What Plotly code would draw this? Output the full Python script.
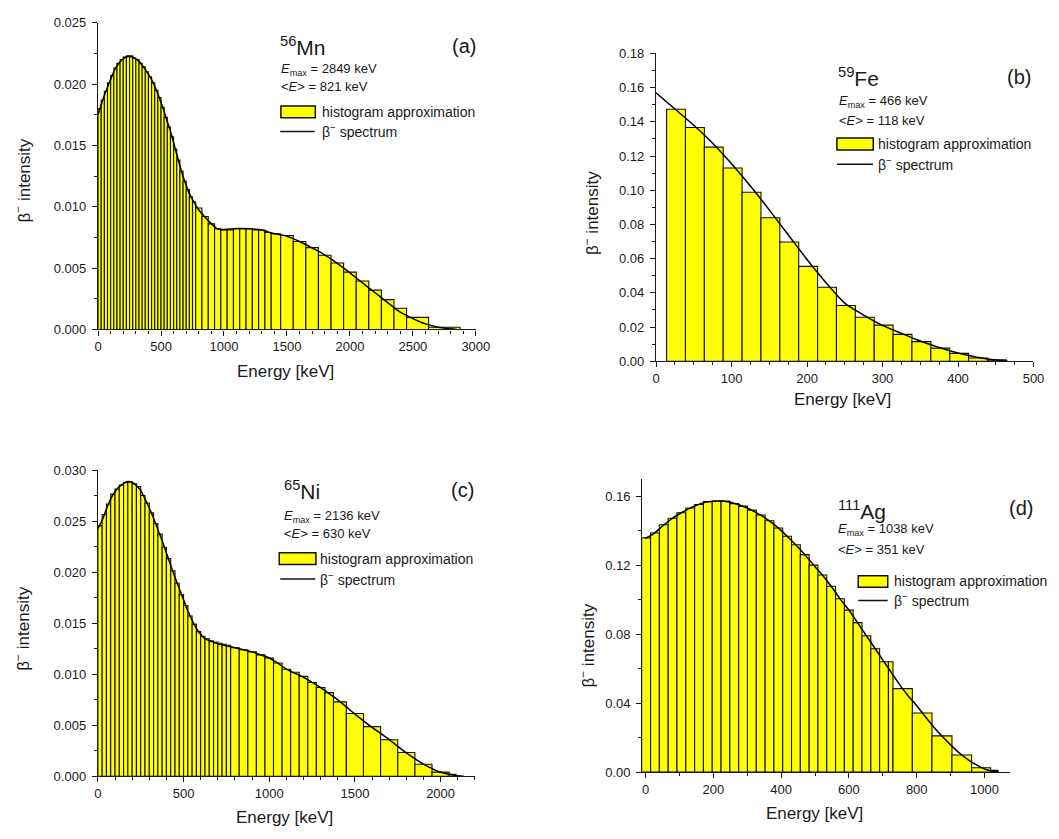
import plotly.graph_objects as go

# ---------------- data ----------------
# (a) 56Mn
a_edges = [0, 25, 50, 75, 100, 125, 150, 175, 200, 225, 250, 275, 300, 325, 350, 375, 400,
           425, 450, 475, 500, 525, 550, 575, 600, 625, 650, 675, 700, 725, 750, 775,
           825, 875, 925, 975, 1025, 1075, 1125, 1175, 1225, 1275, 1325, 1375,
           1450, 1550, 1650, 1750, 1850, 1950, 2050, 2150, 2250, 2350, 2450, 2625, 2875]
a_hist = [0.0180, 0.0187, 0.0194, 0.0201, 0.0207, 0.0213, 0.0217, 0.0220, 0.0222, 0.0223,
          0.0223, 0.0221, 0.0220, 0.0217, 0.0214, 0.0210, 0.0206, 0.0201, 0.0195, 0.0189,
          0.0181, 0.0173, 0.0165, 0.0157, 0.0147, 0.0138, 0.0129, 0.0121, 0.0114, 0.0108, 0.0104,
          0.0099, 0.0092, 0.0086, 0.0082, 0.0081, 0.0081, 0.0082, 0.0082, 0.0082, 0.0081, 0.0081, 0.0079,
          0.0078,
          0.00765, 0.00717, 0.00667, 0.00605, 0.00541, 0.00467, 0.00395, 0.0032, 0.00243, 0.00173,
          0.00098, 0.00018]
a_E = [0, 25, 50, 75, 100, 125, 150, 175, 200, 225, 250, 275, 300, 325, 350, 375, 400, 425, 450,
       475, 500, 525, 550, 575, 600, 625, 650, 675, 700, 725, 750, 775, 800, 850, 900, 950, 1000,
       1100, 1200, 1300, 1350, 1400, 1500, 1600, 1700, 1800, 1900, 2000, 2100, 2200, 2300, 2400,
       2500, 2600, 2700, 2800, 2849]
a_I = [0.01748, 0.01833, 0.01908, 0.01974, 0.0204, 0.0210, 0.02148, 0.02182, 0.02206, 0.02222,
       0.02225, 0.0222, 0.02206, 0.02185, 0.02153, 0.0212, 0.0208, 0.02036, 0.01982, 0.0192,
       0.01849, 0.01774, 0.01694, 0.01614, 0.01521, 0.01427, 0.01334, 0.01246, 0.01174, 0.01107,
       0.01059, 0.01014, 0.00974, 0.00915, 0.00862, 0.00819, 0.00814, 0.00822, 0.00821, 0.0081,
       0.00795, 0.0078, 0.0076, 0.00717, 0.00664, 0.00608, 0.00539, 0.00461, 0.00379, 0.00299,
       0.00219, 0.00141, 0.00088, 0.00045, 0.00018, 0.00005, 0.0]

# (b) 59Fe
b_edges = [14, 39, 64, 89, 114, 139, 164, 189, 214, 239, 264, 289, 314, 339, 364, 389, 414, 439, 464]
b_hist = [0.1474, 0.1367, 0.1252, 0.1130, 0.0988, 0.0839, 0.0697, 0.0555, 0.0433, 0.0326,
          0.0257, 0.0211, 0.0157, 0.0115, 0.0077, 0.0046, 0.0019, 0.0008]
b_E = [0, 25, 50, 75, 100, 125, 150, 175, 200, 225, 250, 275, 300, 325, 350, 375, 400, 425, 450, 466]
b_I = [0.157, 0.1475, 0.138, 0.1275, 0.1155, 0.1025, 0.0885, 0.074, 0.0595, 0.046, 0.034,
       0.027, 0.021, 0.0163, 0.0118, 0.0080, 0.0048, 0.0024, 0.0008, 0.0]

# (c) 65Ni
c_edges = [0, 25, 50, 75, 100, 125, 150, 175, 200, 225, 250, 275, 300, 325, 350, 375, 400,
           425, 450, 475, 500, 525, 550, 575, 600, 625, 650, 675, 700, 725, 750, 775,
           825, 875, 925, 975, 1025, 1075, 1125, 1175, 1225, 1275, 1325, 1375,
           1450, 1550, 1650, 1750, 1850, 1950, 2050, 2090]
c_hist = [0.02455, 0.02567, 0.0267, 0.02766, 0.02817, 0.02856, 0.02881, 0.02888, 0.02868, 0.0284,
          0.02753, 0.02679, 0.02583, 0.02477, 0.02374, 0.02246, 0.02134, 0.02015, 0.01893, 0.01781,
          0.01675, 0.01572, 0.01492, 0.01418, 0.01373, 0.01348, 0.01328, 0.01316, 0.01305, 0.01295,
          0.01285,
          0.0126, 0.0124, 0.0122, 0.0119, 0.0116, 0.0111, 0.0105, 0.0102, 0.0098, 0.0092, 0.0087, 0.0082,
          0.0073,
          0.00616, 0.00487, 0.00359, 0.00234, 0.00118, 0.00041,
          0.0002]
c_E = [0, 25, 50, 75, 100, 125, 150, 175, 200, 225, 250, 275, 300, 325, 350, 375, 400, 425, 450,
       475, 500, 525, 550, 575, 600, 625, 650, 700, 750, 800, 850, 900, 950, 1000, 1050, 1100,
       1150, 1200, 1250, 1300, 1350, 1400, 1450, 1500, 1600, 1700, 1800, 1900, 2000, 2050, 2100, 2136]
c_I = [0.0243, 0.0251, 0.0262, 0.0272, 0.0279, 0.0284, 0.0287, 0.0289, 0.0288, 0.0285, 0.0280,
       0.0272, 0.0263, 0.0253, 0.0242, 0.0231, 0.0219, 0.0207, 0.0195, 0.0184, 0.0173, 0.0162,
       0.0153, 0.0145, 0.0139, 0.0135, 0.0133, 0.0130, 0.0128, 0.0126, 0.0124, 0.0122, 0.0119,
       0.0116, 0.0111, 0.0105, 0.0101, 0.0097, 0.0092, 0.0087, 0.0081, 0.0075, 0.0068, 0.0061,
       0.0048, 0.0036, 0.0023, 0.0012, 0.0004, 0.0002, 0.00005, 0.0]

# (d) 111Ag
d_edges = [-11.5, 14.5, 40.5, 66.5, 92.5, 118.5, 144.5, 170.5, 196.5, 222.5, 248.5, 274.5, 300.5,
           326.5, 352.5, 378.5, 404.5, 430.5, 456.5, 482.5, 508.5, 534.5, 560.5, 586.5, 612.5,
           638.5, 664.5, 690.5, 716.5, 730, 787, 845, 904, 962, 1018, 1040]
d_hist = [0.1359, 0.1387, 0.1435, 0.1473, 0.1505, 0.1532, 0.1553, 0.1570, 0.1573, 0.1572,
          0.1558, 0.1543, 0.1520, 0.1492, 0.1458, 0.1416, 0.1368, 0.1319, 0.1262, 0.1201,
          0.1144, 0.1078, 0.1006, 0.0940, 0.0867, 0.0791, 0.0716, 0.0640,
          0.0640, 0.0484, 0.0343, 0.0210, 0.0099, 0.0025, 0.0010]
d_E = [0, 25, 50, 75, 100, 125, 150, 175, 200, 225, 250, 275, 300, 325, 350, 375, 400, 425, 450,
       475, 500, 525, 550, 575, 600, 625, 650, 675, 700, 725, 750, 775, 800, 825, 850, 875, 900,
       925, 950, 975, 1000, 1020, 1040]
d_I = [0.1357, 0.1385, 0.1428, 0.1467, 0.1499, 0.1526, 0.1548, 0.1565, 0.1572, 0.1573, 0.1566,
       0.1551, 0.1532, 0.1507, 0.1478, 0.1443, 0.1401, 0.1354, 0.1305, 0.1250, 0.1192, 0.1135,
       0.1071, 0.1002, 0.0939, 0.0868, 0.0795, 0.0723, 0.0650, 0.0578, 0.0506, 0.0442, 0.0385,
       0.0322, 0.0262, 0.0208, 0.0158, 0.0112, 0.0074, 0.0043, 0.0018, 0.0006, 0.0]

panels = [
    dict(edges=a_edges, hist=a_hist, E=a_E, I=a_I, ax="", nuc="56", el="Mn", tag="(a)",
         emax="2849", emean="821"),
    dict(edges=b_edges, hist=b_hist, E=b_E, I=b_I, ax="2", nuc="59", el="Fe", tag="(b)",
         emax="466", emean="118"),
    dict(edges=c_edges, hist=c_hist, E=c_E, I=c_I, ax="3", nuc="65", el="Ni", tag="(c)",
         emax="2136", emean="630"),
    dict(edges=d_edges, hist=d_hist, E=d_E, I=d_I, ax="4", nuc="111", el="Ag", tag="(d)",
         emax="1038", emean="351"),
]

W, H = 1059, 839
FONT = "Liberation Sans, Arial, sans-serif"
INK = "#1a1a1a"

def px(x):
    return x / W

def py(y):
    return 1 - y / H

fig = go.Figure()
for p in panels:
    lefts = p["edges"][:-1]
    widths = [r - l for l, r in zip(p["edges"][:-1], p["edges"][1:])]
    fig.add_trace(go.Bar(x=lefts, y=p["hist"], width=widths, offset=0,
                         marker=dict(color="#FFFF00", line=dict(color="#111111", width=1.1)),
                         xaxis="x" + p["ax"], yaxis="y" + p["ax"], showlegend=False,
                         name="histogram approximation"))
    fig.add_trace(go.Scatter(x=p["E"], y=p["I"], mode="lines",
                             line=dict(color="#000000", width=1.5, shape="spline", smoothing=0.8),
                             xaxis="x" + p["ax"], yaxis="y" + p["ax"], showlegend=False,
                             name="β⁻ spectrum"))

# axis geometry (pixel-measured domains)
geo = {
    "": dict(xd=[95.7, 480.0], yd=[328.3, 16.0], xr=[0, 3000], yr=[0, 0.025],
             xdt=500, xmin=100, ydt=0.005, ymin=0.0025, yf=".3f"),
    "2": dict(xd=[663.3, 1047.3], yd=[360.7, 47.3], xr=[0, 500], yr=[0, 0.18],
              xdt=100, xmin=25, ydt=0.02, ymin=0.01, yf=".2f"),
    "3": dict(xd=[95.5, 479.0], yd=[783.3, 471.7], xr=[0, 2200], yr=[0, 0.030],
              xdt=500, xmin=100, ydt=0.005, ymin=0.0025, yf=".3f"),
    "4": dict(xd=[649.3, 1023.3], yd=[779.0, 480.7], xr=[-10, 1075], yr=[0, 0.17],
              xdt=200, xmin=100, ydt=0.04, ymin=0.02, yf=".2f"),
}

layout = dict(width=W, height=H, margin=dict(l=0, r=0, t=0, b=0),
              paper_bgcolor="white", plot_bgcolor="white", barmode="overlay",
              font=dict(family=FONT, color=INK))

tickfont = dict(family=FONT, size=13, color=INK)
for k, g in geo.items():
    xname = "xaxis" + k
    yname = "yaxis" + k
    layout[xname] = dict(domain=[px(g["xd"][0]), px(g["xd"][1])], range=g["xr"],
                         anchor="y" + k, showgrid=False, zeroline=False,
                         showline=True, linecolor=INK, linewidth=1.3,
                         ticks="outside", ticklen=5, tickwidth=1.2, tickcolor=INK,
                         tick0=0, dtick=g["xdt"], tickfont=tickfont,
                         minor=dict(dtick=g["xmin"], tick0=0, ticks="outside", ticklen=3,
                                    tickwidth=1, tickcolor=INK, showgrid=False))
    layout[yname] = dict(domain=[py(g["yd"][0]), py(g["yd"][1])], range=g["yr"],
                         anchor="x" + k, showgrid=False, zeroline=False,
                         showline=True, linecolor=INK, linewidth=1.3,
                         ticks="outside", ticklen=5, tickwidth=1.2, tickcolor=INK,
                         tick0=0, dtick=g["ydt"], tickformat=g["yf"], tickfont=tickfont,
                         ticklabelstandoff=3,
                         minor=dict(dtick=g["ymin"], tick0=0, ticks="outside", ticklen=3,
                                    tickwidth=1, tickcolor=INK, showgrid=False))

fig.update_layout(**layout)

# text / legend placement for each panel (pixel positions)
deco = {
    "": dict(nuc=(279, 40), tag=(481.7, 40), emax=(279.3, 63.3), emean=(279.3, 80.7),
             rect=(281.7, 100.7, 316.7, 112.7), line=(281, 126.7, 316), txt=321,
             xt=(286.7, 370.7), yt=(18.3, 176.7)),
    "2": dict(nuc=(846.7, 71.7), tag=(1046.7, 71.7), emax=(847.3, 96), emean=(847.3, 115.7),
              rect=(847.3, 133.3, 884.3, 145.7), line=(847.3, 160, 884), txt=886.7,
              xt=(853, 400), yt=(597, 210)),
    "3": dict(nuc=(282.7, 492), tag=(480, 492), emax=(283.3, 518.3), emean=(283.3, 536),
              rect=(280, 555.7, 317.3, 567.7), line=(281, 582.3, 316.7), txt=319.3,
              xt=(285, 825), yt=(18.3, 633)),
    "4": dict(nuc=(846.7, 512), tag=(1049.3, 510), emax=(846, 532.3), emean=(846, 552.7),
              rect=(869, 579, 899, 590.7), line=(869, 604.3, 899), txt=903.3,
              xt=(825, 820.7), yt=(593.3, 650)),
}

annotations = []
shapes = []
for p in panels:
    d = deco[p["ax"]]
    annotations.append(dict(xref="paper", yref="paper", x=px(d["nuc"][0]), y=py(d["nuc"][1]),
                            xanchor="left", yanchor="middle", showarrow=False,
                            text="<sup>%s</sup>%s" % (p["nuc"], p["el"]),
                            font=dict(family=FONT, size=21, color=INK)))
    annotations.append(dict(xref="paper", yref="paper", x=px(d["tag"][0]), y=py(d["tag"][1]),
                            xanchor="right", yanchor="middle", showarrow=False, text=p["tag"],
                            font=dict(family=FONT, size=20, color=INK)))
    annotations.append(dict(xref="paper", yref="paper", x=px(d["emax"][0]), y=py(d["emax"][1]),
                            xanchor="left", yanchor="middle", showarrow=False,
                            text="<i>E</i><sub>max</sub> = %s keV" % p["emax"],
                            font=dict(family=FONT, size=13, color=INK)))
    annotations.append(dict(xref="paper", yref="paper", x=px(d["emean"][0]), y=py(d["emean"][1]),
                            xanchor="left", yanchor="middle", showarrow=False,
                            text="&lt;<i>E</i>&gt; = %s keV" % p["emean"],
                            font=dict(family=FONT, size=13, color=INK)))
    x0, y0, x1, y1 = d["rect"]
    shapes.append(dict(type="rect", xref="paper", yref="paper", x0=px(x0), x1=px(x1),
                       y0=py(y1), y1=py(y0), fillcolor="#FFFF00",
                       line=dict(color="#111111", width=1.5)))
    annotations.append(dict(xref="paper", yref="paper", x=px(d["txt"]), y=py((y0 + y1) / 2),
                            xanchor="left", yanchor="middle", showarrow=False,
                            text="histogram approximation",
                            font=dict(family=FONT, size=14, color=INK)))
    lx0, ly, lx1 = d["line"]
    shapes.append(dict(type="line", xref="paper", yref="paper", x0=px(lx0), x1=px(lx1),
                       y0=py(ly), y1=py(ly), line=dict(color="#111111", width=1.5)))
    annotations.append(dict(xref="paper", yref="paper", x=px(d["txt"]), y=py(ly),
                            xanchor="left", yanchor="middle", showarrow=False,
                            text="β<sup>−</sup> spectrum",
                            font=dict(family=FONT, size=14, color=INK)))
    annotations.append(dict(xref="paper", yref="paper", x=px(d["xt"][0]), y=py(d["xt"][1]),
                            xanchor="center", yanchor="middle", showarrow=False,
                            text="Energy [keV]", font=dict(family=FONT, size=17, color=INK)))
    annotations.append(dict(xref="paper", yref="paper", x=px(d["yt"][0]), y=py(d["yt"][1]),
                            xanchor="center", yanchor="middle", showarrow=False, textangle=-90,
                            text="β<sup>−</sup> intensity", font=dict(family=FONT, size=17, color=INK)))

fig.update_layout(annotations=annotations, shapes=shapes)
fig.write_html("out.html")
